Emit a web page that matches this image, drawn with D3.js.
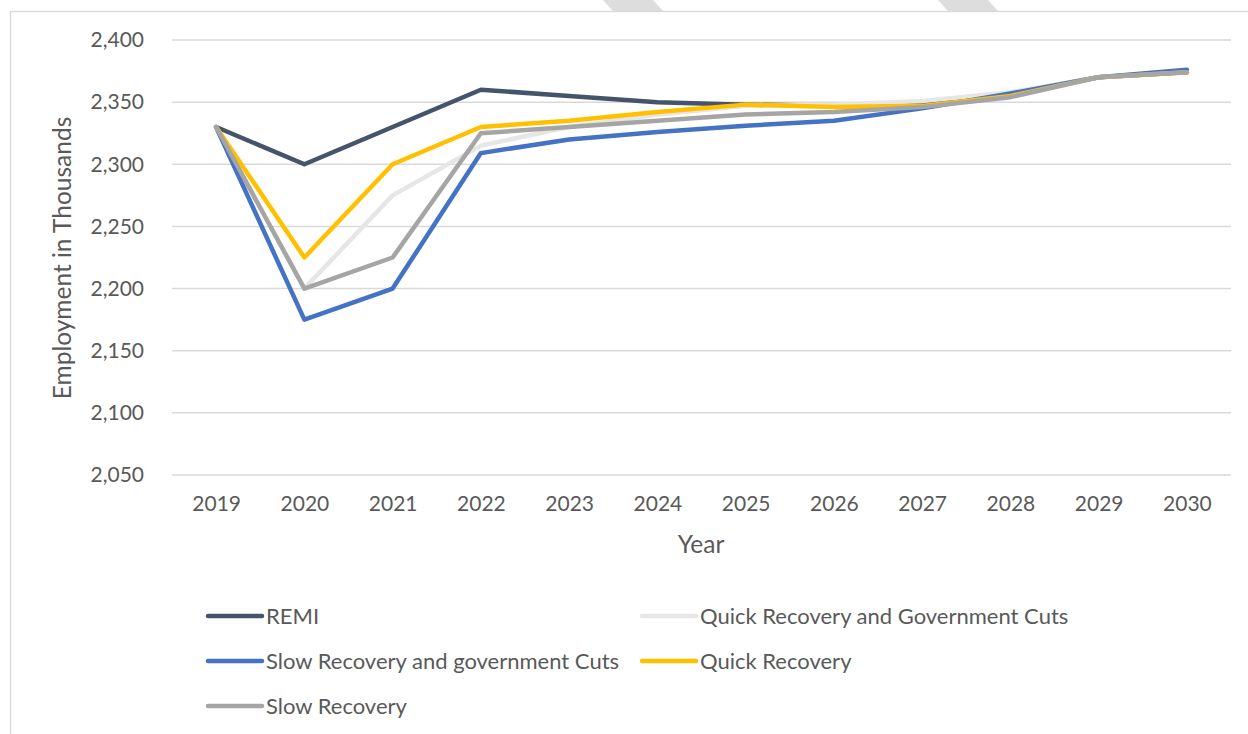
<!DOCTYPE html>
<html>
<head>
<meta charset="utf-8">
<script src="https://cdn.jsdelivr.net/npm/d3@7"></script>
<style>
  html, body { margin: 0; padding: 0; background: #fff; }
  svg { display: block; }
  text { font-family: Lato, "Open Sans", sans-serif; fill: #595959; }
</style>
</head>
<body>
<svg id="chart" width="1248" height="734"></svg>
<script>
// Employment projections (thousands) by scenario, 2019–2030
const years = ["2019","2020","2021","2022","2023","2024","2025","2026","2027","2028","2029","2030"];
const yTicks = [2050, 2100, 2150, 2200, 2250, 2300, 2350, 2400];

const remi        = [2330, 2300, 2330, 2360, 2355, 2350, 2348, 2347, 2350, 2357, 2370, 2374];
const quickCuts   = [2330, 2200, 2275, 2315, 2330, 2340, 2347, 2348, 2351, 2358, 2370, 2375];
const slowCuts    = [2330, 2175, 2200, 2309, 2320, 2326, 2331, 2335, 2345, 2357, 2370, 2376];
const quick       = [2330, 2225, 2300, 2330, 2335, 2342, 2348, 2346, 2347, 2355, 2370, 2374];
const slow        = [2330, 2200, 2225, 2325, 2330, 2335, 2340, 2342, 2346, 2354, 2370, 2374];

const seriesNames = ["REMI", "Quick Recovery and Government Cuts", "Slow Recovery and government Cuts", "Quick Recovery", "Slow Recovery"];
const seriesValues = [remi, quickCuts, slowCuts, quick, slow];
const seriesColors = ["#44546a", "#e7e6e6", "#4472c4", "#ffc000", "#a5a5a5"];

const svg = d3.select("#chart");

// decorative stripes along the top edge
const stripes = [[603, 653], [938, 988]];
svg.selectAll("path.stripe").data(stripes).enter().append("path")
  .attr("class", "stripe")
  .attr("d", d => `M${d[0]},0 L${d[1]},0 L${d[1] + 10},11 L${d[0] + 10},11 Z`)
  .attr("fill", "#dddddd");

// chart frame
svg.append("rect")
  .attr("x", 10.5).attr("y", 11.5)
  .attr("width", 1260).attr("height", 760)
  .attr("fill", "none").attr("stroke", "#d9d9d9").attr("stroke-width", 1.5);

const plot = { left: 172, right: 1231, top: 40, bottom: 475 };

const x = d3.scalePoint().domain(years)
  .range([plot.left, plot.right]).padding(0.5);
const y = d3.scaleLinear().domain([2050, 2400])
  .range([plot.bottom, plot.top]);

// horizontal gridlines
svg.append("g").selectAll("line").data(yTicks).enter().append("line")
  .attr("x1", plot.left).attr("x2", plot.right)
  .attr("y1", d => y(d)).attr("y2", d => y(d))
  .attr("stroke", "#d9d9d9").attr("stroke-width", 1.5);

// y axis labels
const yAxis = d3.axisLeft(y).tickValues(yTicks).tickSize(0).tickPadding(0)
  .tickFormat(d3.format(","));
const gy = svg.append("g").attr("transform", `translate(${144},0)`).call(yAxis);
gy.select(".domain").remove();
gy.selectAll("text").attr("font-size", 21).attr("font-family", null).style("fill", "#595959");

// x axis labels
const xAxis = d3.axisBottom(x).tickSize(0).tickPadding(0);
const gx = svg.append("g").attr("transform", `translate(0,${plot.bottom + 21})`).call(xAxis);
gx.select(".domain").remove();
gx.selectAll("text").attr("font-size", 21).attr("font-family", null).style("fill", "#595959");

// axis titles
svg.append("text")
  .attr("transform", `translate(71,${258}) rotate(-90)`)
  .attr("text-anchor", "middle")
  .attr("font-size", 24.5)
  .text("Employment in Thousands");
svg.append("text")
  .attr("x", 701).attr("y", 553)
  .attr("text-anchor", "middle")
  .attr("font-size", 24.5)
  .text("Year");

// series lines
const line = d3.line()
  .x((d, i) => x(years[i]))
  .y(d => y(d));

svg.append("g").selectAll("path").data(seriesValues).enter().append("path")
  .attr("d", d => line(d))
  .attr("fill", "none")
  .attr("stroke", (d, i) => seriesColors[i])
  .attr("stroke-width", 4.5)
  .attr("stroke-linejoin", "round")
  .attr("stroke-linecap", "round");

// legend
const legendPos = [
  { x: 208, y: 616 }, { x: 642, y: 616 },
  { x: 208, y: 661 }, { x: 642, y: 661 },
  { x: 208, y: 706 }
];
const lg = svg.append("g").selectAll("g").data(seriesNames).enter().append("g")
  .attr("transform", (d, i) => `translate(${legendPos[i].x},${legendPos[i].y})`);
lg.append("line")
  .attr("x1", 0).attr("x2", 54).attr("y1", 0).attr("y2", 0)
  .attr("stroke", (d, i) => seriesColors[i])
  .attr("stroke-width", 4.5)
  .attr("stroke-linecap", "round");
lg.append("text")
  .attr("x", 58).attr("y", 0).attr("dy", "0.35em")
  .attr("font-size", 22)
  .text(d => d);
</script>
</body>
</html>
